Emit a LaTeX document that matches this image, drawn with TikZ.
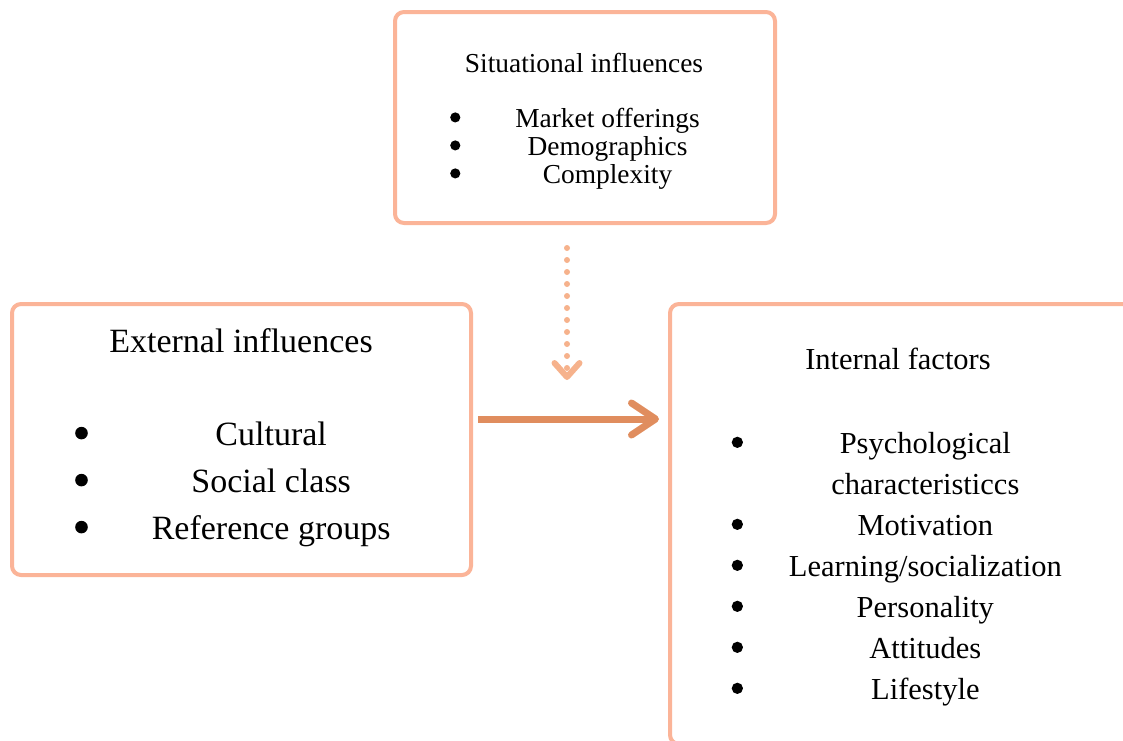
\documentclass[tikz,border=0pt]{standalone}
\usepackage{fontspec}
\setmainfont{Liberation Serif}
\usetikzlibrary{arrows.meta}
\definecolor{boxline}{RGB}{251,180,152}
\definecolor{dotline}{RGB}{246,178,140}
\definecolor{mainarrow}{RGB}{224,141,94}
% round list marker, sized from the current font
\newcommand{\itemdot}{\tikz[baseline={(0,-0.35em)}]\fill (0,0) circle (0.185em);}

\begin{document}
\begin{tikzpicture}[x=1pt,y=-1pt]
  \tikzstyle{factor}=[draw=boxline,line width=4pt,rounded corners=9pt,inner sep=0pt,fill=white]
  \tikzstyle{heading}=[anchor=base,inner sep=0pt]
  \tikzstyle{items}=[anchor=base west,inner sep=0pt]

  \useasboundingbox (0,0) rectangle (1123,740);

  % the three boxes
  \node[factor,minimum width=380pt,minimum height=211pt] (sit) at (585,117.5) {};
  \node[factor,minimum width=459pt,minimum height=271pt] (ext) at (241.5,439.5) {};
  \node[factor,minimum width=470pt,minimum height=440pt] (int) at (905,524) {};

  % headings
  \node[heading] (sittitle) at (584,72) {\fontsize{27.4}{28}\selectfont Situational influences};
  \node[heading] (exttitle) at (241,352) {\fontsize{34}{40}\selectfont External influences};
  \node[heading] (inttitle) at (898,369) {\fontsize{30.5}{36}\selectfont Internal factors};

  % bullet lists
  \node[items] (sitlist) at (450,127) {\fontsize{27.4}{28}\selectfont
    \begin{tabular}[t]{@{}l@{\hspace{55pt}}c@{}}
      \itemdot & Market offerings\\
      \itemdot & Demographics\\
      \itemdot & Complexity
    \end{tabular}};
  \node[items] (extlist) at (75,445) {\fontsize{34}{47}\selectfont
    \begin{tabular}[t]{@{}l@{\hspace{64pt}}c@{}}
      \itemdot & Cultural\\
      \itemdot & Social class\\
      \itemdot & Reference groups
    \end{tabular}};
  \node[items] (intlist) at (731.5,453) {\fontsize{30.5}{41}\selectfont
    \begin{tabular}[t]{@{}l@{\hspace{46pt}}c@{}}
      \itemdot & Psychological\\
               & characteristiccs\\
      \itemdot & Motivation\\
      \itemdot & Learning/socialization\\
      \itemdot & Personality\\
      \itemdot & Attitudes\\
      \itemdot & Lifestyle
    \end{tabular}};

  % connectors
  \coordinate (dotend) at (567,380);
  \draw[dotline,line width=6pt,line cap=round,dash pattern=on 0pt off 12pt,
        -{Straight Barb[round,length=14pt,width=25pt]},shorten <=23pt]
    (sit.south -| dotend) -- (dotend);
  \draw[mainarrow,line width=7pt,
        -{Straight Barb[round,length=24pt,width=32pt]},shorten <=5pt,shorten >=9pt]
    ([yshift=20.5pt]ext.east) -- ([yshift=20.5pt]ext.east -| int.west);
\end{tikzpicture}
\end{document}
